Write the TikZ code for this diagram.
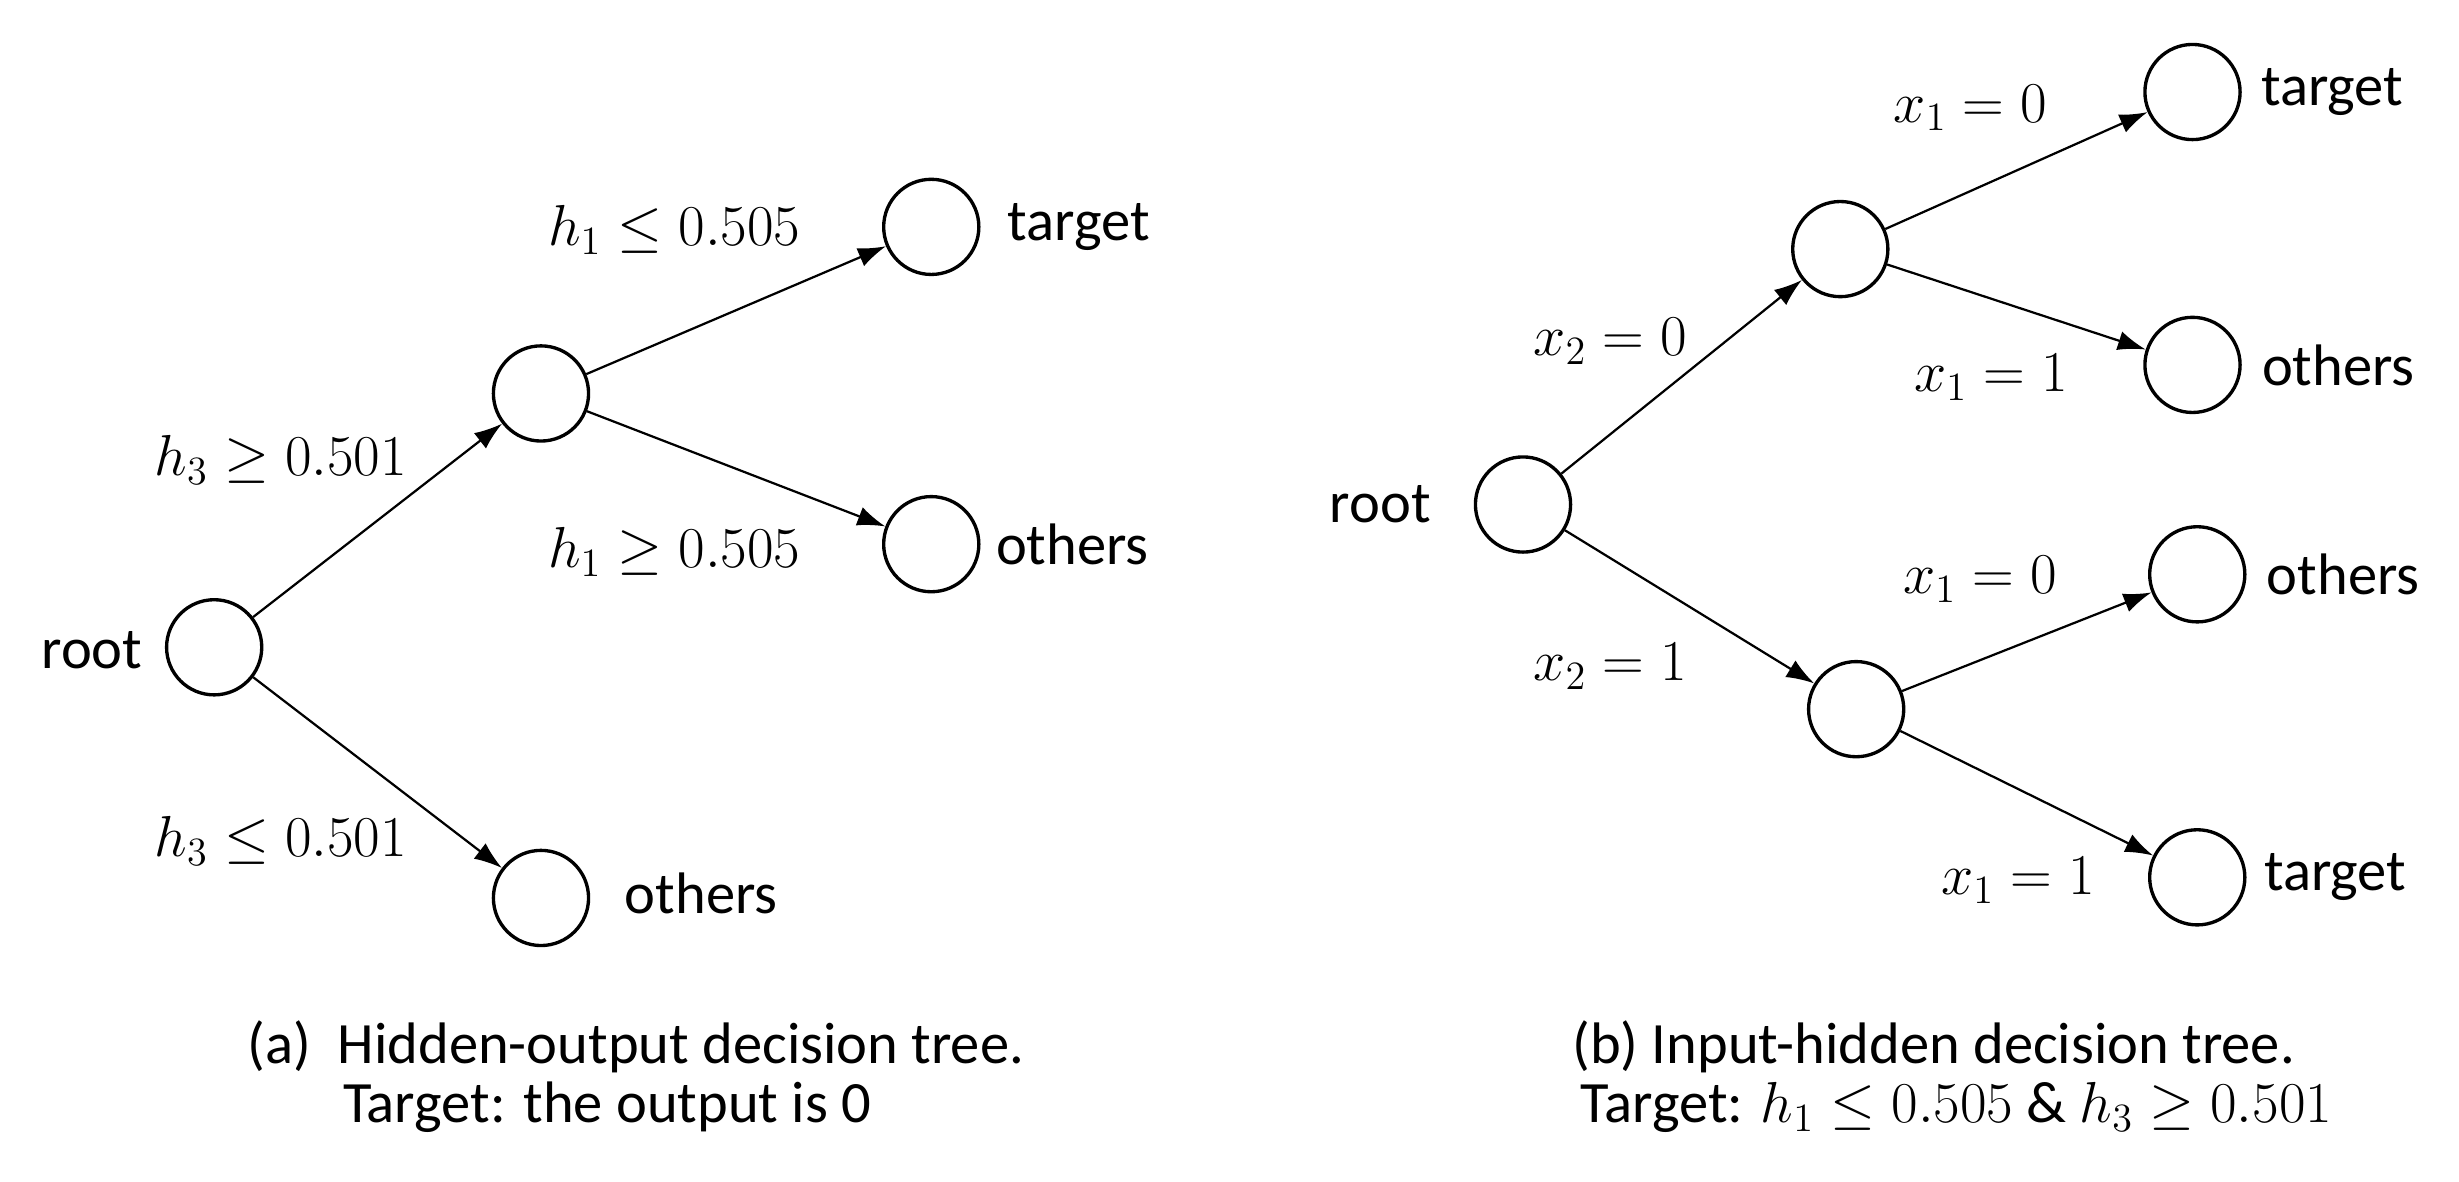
\documentclass[tikz,border=0pt]{standalone}
\usepackage{fontspec}
\setmainfont{Carlito}
\usetikzlibrary{arrows.meta}
\begin{document}
\begin{tikzpicture}[x=0.02cm,y=-0.02cm,
  every node/.style={font=\fontsize{21}{25}\selectfont},
  c/.style={circle,draw,line width=1.2pt,minimum size=1.2cm,inner sep=0pt},
  e/.style={-{Latex[length=10pt,width=7pt]},line width=0.8pt},
  t/.style={inner sep=2pt}]
\useasboundingbox (0,0) rectangle (1550,745);
% left tree
\node[c] (r) at (135,408) {};
\node[t] at (58,410) (rl) {root};
\node[c] (m) at (341,248) {};
\node[c] (a1) at (587,143) {};
\node[t] at (680,143) (a1l) {target};
\node[c] (a2) at (587,343) {};
\node[t] at (676,343) (a2l) {others};
\node[c] (a3) at (341,566) {};
\node[t] at (442,563) (a3l) {others};
\draw[e] (r) -- (m);
\draw[e] (r) -- (a3);
\draw[e] (m) -- (a1);
\draw[e] (m) -- (a2);
\node (l1) at (425,145) {$h_1 \le 0.505$};
\node (l2) at (177,290) {$h_3 \ge 0.501$};
\node (l3) at (425,348) {$h_1 \ge 0.505$};
\node (l4) at (177,530) {$h_3 \le 0.501$};
\node[anchor=west] (ca1) at (150,660) {(a)\ \ Hidden-output decision tree.};
\node[anchor=west] (ca2) at (210,698) {Target: the output is 0};
% right tree
\node[c] (R) at (960,318) {};
\node[t] at (870,318) (Rl) {root};
\node[c] (U) at (1160,157) {};
\node[c] (D) at (1170,447) {};
\node[c] (b1) at (1382,58) {};
\node[t] at (1470,58) (b1l) {target};
\node[c] (b2) at (1382,230) {};
\node[t] at (1474,230) (b2l) {others};
\node[c] (b3) at (1385,362) {};
\node[t] at (1477,362) (b3l) {others};
\node[c] (b4) at (1385,553) {};
\node[t] at (1472,553) (b4l) {target};
\draw[e] (R) -- (U);
\draw[e] (R) -- (D);
\draw[e] (U) -- (b1);
\draw[e] (U) -- (b2);
\draw[e] (D) -- (b3);
\draw[e] (D) -- (b4);
\node (k1) at (1242,68) {$x_1 = 0$};
\node (k2) at (1015,215) {$x_2 = 0$};
\node (k3) at (1255,238) {$x_1 = 1$};
\node (k4) at (1248,365) {$x_1 = 0$};
\node (k5) at (1015,420) {$x_2 = 1$};
\node (k6) at (1272,555) {$x_1 = 1$};
\node[anchor=west] (cb1) at (985,660) {(b) Input-hidden decision tree.};
\node[anchor=west] (cb2) at (990,698) {Target: $h_1 \le 0.505$ \& $h_3 \ge 0.501$};
\end{tikzpicture}
\end{document}
